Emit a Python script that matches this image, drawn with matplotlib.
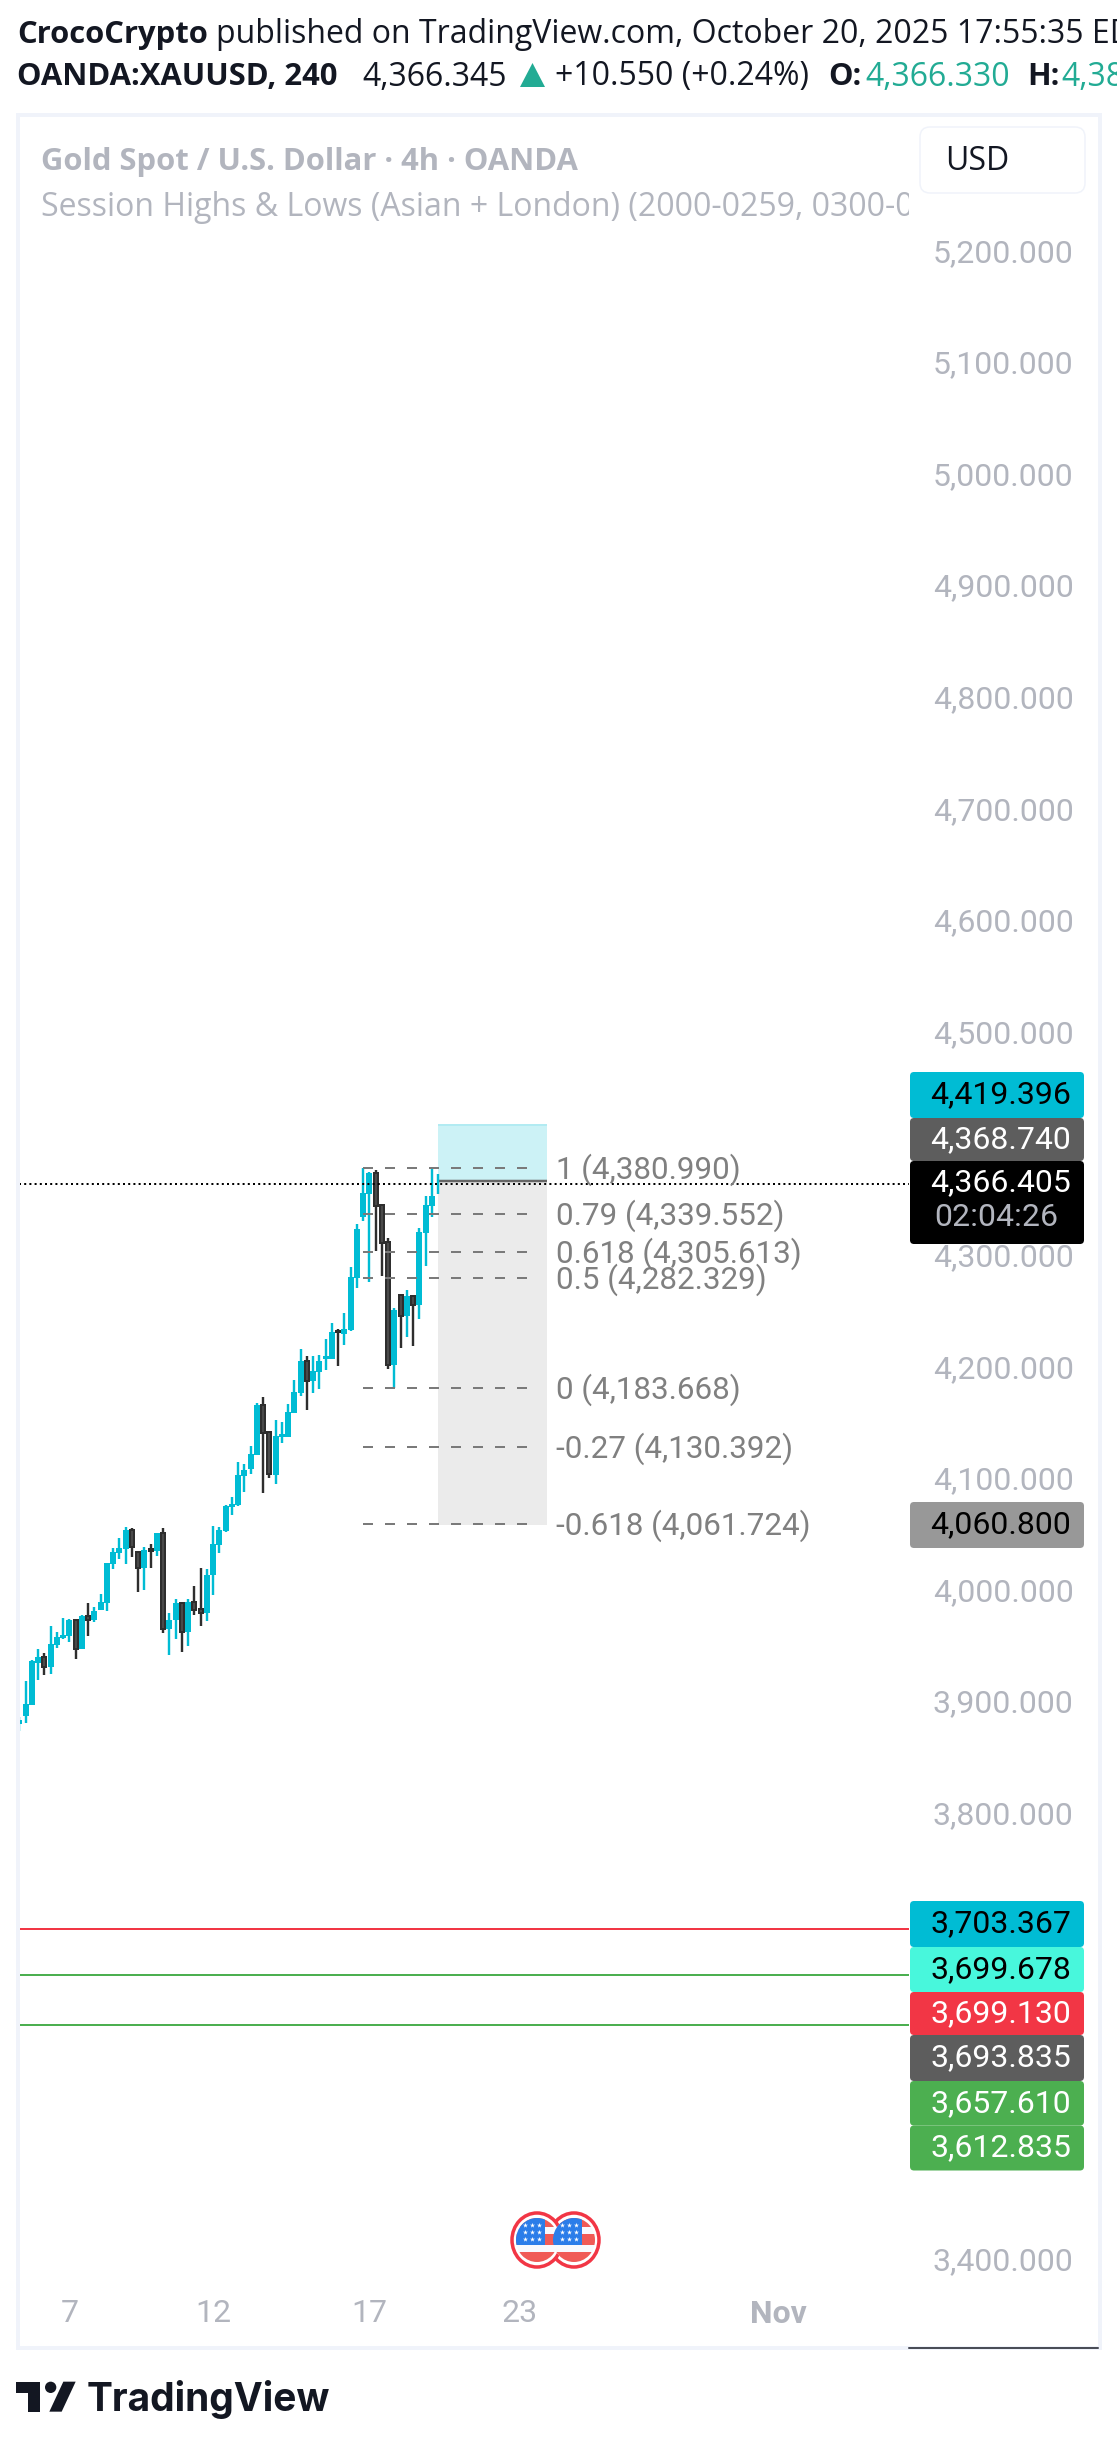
import matplotlib
matplotlib.use("Agg")
import matplotlib.pyplot as plt
from matplotlib.patches import Ellipse, FancyBboxPatch, Polygon, Rectangle, Circle
from matplotlib.transforms import ScaledTranslation
import numpy as np

plt.rcParams["font.family"] = ["Roboto", "DejaVu Sans"]

# 4h candles
opens = [3882.6, 3889.7, 3899.6, 3937.2, 3942.6, 3933.6, 3953.4, 3959.6, 3961.4, 3975.8,
         3949.8, 3979.3, 3975.8, 3984.7, 3991.0, 4025.9, 4035.8, 4039.4, 4056.4, 4036.7,
         4022.4, 4039.4, 4037.6, 4053.7, 3967.7, 3975.8, 3991.0, 3965.0, 3991.9, 3985.6,
         3982.0, 4016.1, 4043.0, 4055.5, 4077.0, 4078.8, 4104.8, 4111.1, 4123.6, 4168.4,
         4144.2, 4105.7, 4139.7, 4140.0, 4161.6, 4179.5, 4207.9, 4190.2, 4198.3, 4210.0,
         4210.0, 4235.1, 4232.1, 4235.7, 4282.6, 4337.0, 4357.6, 4376.4, 4347.7, 4314.6,
         4204.3, 4267.1, 4248.2, 4266.2, 4258.1, 4322.6, 4346.8, 4366.33]
highs = [3888.8, 3921.1, 3939.9, 3949.8, 3946.2, 3970.4, 3965.0, 3977.5, 3976.7, 3976.7,
         3980.2, 3991.0, 3987.4, 3999.1, 4026.8, 4040.3, 4049.2, 4059.1, 4058.2, 4036.7,
         4041.2, 4043.9, 4053.7, 4058.2, 3982.0, 3994.6, 3991.9, 3994.6, 4006.2, 4022.4,
         4021.5, 4060.0, 4059.1, 4078.8, 4086.0, 4117.3, 4115.5, 4131.7, 4170.2, 4175.6,
         4144.2, 4155.0, 4153.2, 4169.3, 4190.8, 4218.6, 4212.3, 4212.3, 4213.2, 4227.6,
         4242.0, 4236.6, 4250.9, 4292.2, 4330.7, 4381.0, 4377.3, 4379.1, 4347.7, 4318.1,
         4255.4, 4268.0, 4271.5, 4267.1, 4327.1, 4355.8, 4381.0, 4375.5]
lows = [3876.3, 3883.5, 3899.6, 3922.0, 3926.5, 3927.4, 3950.7, 3958.7, 3956.0, 3940.8,
        3949.8, 3961.4, 3974.0, 3984.7, 3983.8, 4021.5, 4030.4, 4025.9, 4032.2, 4000.9,
        4002.6, 4022.4, 4033.1, 3964.1, 3944.4, 3958.7, 3947.1, 3952.5, 3980.2, 3970.4,
        3974.9, 3998.2, 4035.8, 4054.6, 4069.8, 4077.9, 4090.5, 4106.6, 4123.6, 4089.6,
        4103.0, 4097.6, 4134.4, 4140.0, 4161.6, 4176.5, 4163.9, 4179.5, 4182.8, 4199.9,
        4210.0, 4203.4, 4222.3, 4234.8, 4273.3, 4333.4, 4278.7, 4306.5, 4284.1, 4200.8,
        4183.7, 4219.6, 4229.4, 4221.4, 4245.6, 4293.0, 4337.0, 4357.6]
closes = [3886.1, 3900.5, 3939.0, 3942.6, 3933.6, 3954.3, 3960.5, 3962.3, 3975.8, 3949.8,
          3979.3, 3975.8, 3983.8, 3991.9, 4026.8, 4036.7, 4040.3, 4056.4, 4041.2, 4022.4,
          4038.5, 4037.6, 4053.7, 3967.7, 3975.8, 3991.0, 3965.0, 3991.9, 3984.7, 3982.0,
          4016.1, 4043.9, 4056.4, 4077.9, 4079.7, 4105.7, 4110.2, 4124.5, 4168.4, 4143.3,
          4106.6, 4140.6, 4142.4, 4162.2, 4180.1, 4207.9, 4190.2, 4198.9, 4207.9, 4212.4,
          4233.9, 4233.6, 4236.6, 4283.2, 4326.2, 4358.5, 4376.4, 4346.8, 4313.7, 4204.3,
          4253.6, 4248.2, 4266.2, 4258.1, 4323.5, 4347.7, 4355.8, 4366.345]

price_ticks = [3400, 3500, 3600, 3700, 3800, 3900, 4000, 4100, 4200, 4300, 4400, 4500,
               4600, 4700, 4800, 4900, 5000, 5100, 5200]
time_ticks = [8, 31, 56, 80, 121.4]
time_labels = ["7", "12", "17", "23", "Nov"]

fib_levels = [4380.990, 4339.552, 4305.613, 4282.329, 4183.668, 4130.392, 4061.724]
fib_labels = ["1 (4,380.990)", "0.79 (4,339.552)", "0.618 (4,305.613)", "0.5 (4,282.329)",
              "0 (4,183.668)", "-0.27 (4,130.392)", "-0.618 (4,061.724)"]
target = 4419.396
entry = 4368.740
stop = 4060.800
last_price = 4366.405
session_reds = [3699.130]
session_greens = [3657.610, 3612.835]

pills = [("4,419.396", "#00bcd4", "black"), ("4,368.740", "#5d5d5d", "white"),
         ("4,060.800", "#989898", "black"), ("3,703.367", "#00bcd4", "black"),
         ("3,699.678", "#48f7dc", "black"), ("3,699.130", "#f23645", "white"),
         ("3,693.835", "#5d5d5d", "white"), ("3,657.610", "#4caf50", "white"),
         ("3,612.835", "#4caf50", "white")]
pill_tops = [1072, 1118, 1502, 1901, 1947, 1992, 2035, 2081, 2125.5]
pill_bottoms = [1118, 1161, 1548, 1947, 1992, 2035, 2081, 2125.5, 2170.5]

CYAN = "#00bcd4"
DARK = "#2e2e2e"
GREY_TXT = "#b2b5be"
TEAL = "#22ab94"
INK = "#131722"
HEAD_SIZE = 23
BOLD_SIZE = 22.3
SCALE_SIZE = 23

W, H = 1117, 2446
fig = plt.figure(figsize=(W / 100, H / 100), dpi=100, facecolor="white")
PX = 72 / 100  # one pixel in points

# chart pane, pixel box 19..909 x 116..2349
ax = fig.add_axes([19 / W, 1 - 2349 / H, 890 / W, 2233 / H])
ax.set_xlim(-0.05, 142.35)
ax.set_ylim(4000 - 756 / 1.116, 4000 + 1477 / 1.116)
for s in ax.spines.values():
    s.set_visible(False)

x = np.arange(len(opens))
o, h, l, c = map(np.array, (opens, highs, lows, closes))
up = c >= o

ax.add_patch(Rectangle((67, entry), 17.4, target - entry, fc="#ccf2f6", ec="none", zorder=1))
ax.add_patch(Rectangle((67, stop), 17.4, entry - stop, fc="#ebebeb", ec="none", zorder=1))
ax.hlines(target, 67, 84.4, color="#b2ebf2", lw=2 * PX, zorder=1.5)
ax.hlines(entry, 67, 84.4, color="#666666", lw=2.5 * PX, zorder=1.5)

ax.vlines(x[up], l[up], h[up], color=CYAN, lw=2.4 * PX, zorder=2)
ax.vlines(x[~up], l[~up], h[~up], color=DARK, lw=2.4 * PX, zorder=2)
ax.bar(x[up], (c - o)[up], bottom=o[up], width=0.96, color=CYAN, zorder=2.2)
ax.bar(x[~up], (c - o)[~up], bottom=o[~up], width=0.66, facecolor="#4a4a4a",
       edgecolor=DARK, linewidth=2 * PX, zorder=2.4)

ax.hlines(fib_levels, 55, 81.3, color="#7a7a7a", lw=2 * PX, linestyle=(0, (5, 6)), zorder=3)
fib_shift = ax.transData + ScaledTranslation(0, -1.5 / 100, fig.dpi_scale_trans)
for lev, lab in zip(fib_levels, fib_labels):
    ax.text(85.8, lev, lab, color="#808080", fontsize=22.6, va="center", ha="left", zorder=4,
            transform=fib_shift)

ax.axhline(last_price, color="black", lw=2 * PX, linestyle=(0, (1, 1.6)), zorder=3.5)
for lev in session_reds:
    ax.axhline(lev, color="#f23645", lw=2 * PX, zorder=2)
for lev in session_greens:
    ax.axhline(lev, color="#4caf50", lw=2 * PX, zorder=2)

ax.yaxis.tick_right()
ax.set_yticks(price_ticks)
ax.set_yticklabels([f"{p:,.3f}" for p in price_ticks])
ax.tick_params(axis="y", length=0, pad=24 * PX, labelsize=SCALE_SIZE, labelcolor=GREY_TXT)
ax.set_xticks(time_ticks)
ax.set_xticklabels(time_labels)
ax.tick_params(axis="x", length=0, pad=-50 * PX, labelsize=SCALE_SIZE, labelcolor=GREY_TXT)
ax.get_xticklabels()[-1].set_fontweight("bold")
up_shift = ScaledTranslation(0, 3.5 / 100, fig.dpi_scale_trans)
for lab in ax.get_yticklabels():
    lab.set_transform(lab.get_transform() + up_shift)

# overlay in pixel coordinates for the page furniture
ov = fig.add_axes([0, 0, 1, 1], zorder=5)
ov.set_xlim(0, W)
ov.set_ylim(H, 0)
ov.axis("off")

ov.add_patch(Rectangle((17.5, 115), 1082, 2233, fc="none", ec="#f0f3fa", lw=4 * PX))
ov.plot([909, 1098], [2347.5, 2347.5], color=INK, lw=1.5 * PX)

# header
head = ["Open Sans", "DejaVu Sans"]
ov.text(17, 34.5, "CrocoCrypto", fontsize=BOLD_SIZE, fontweight="bold", color=INK, va="center", family=head)
ov.text(216, 34.5, "published on TradingView.com, October 20, 2025 17:55:35 EDT", fontsize=HEAD_SIZE,
        color=INK, va="center", family=head, clip_on=False)
ov.text(17, 77, "OANDA:XAUUSD, 240", fontsize=BOLD_SIZE, fontweight="bold", color=INK, va="center", family=head)
ov.text(362, 77, "4,366.345", fontsize=HEAD_SIZE, color=INK, va="center", family=head)
ov.add_patch(Polygon([[520, 87], [545, 87], [532.5, 63]], fc=TEAL, ec="none"))
ov.text(555, 77, "+10.550 (+0.24%)", fontsize=HEAD_SIZE, color=INK, va="center", family=head)
ov.text(828, 77, "O:", fontsize=BOLD_SIZE, fontweight="bold", color=INK, va="center", family=head)
ov.text(865, 77, "4,366.330", fontsize=HEAD_SIZE, color=TEAL, va="center", family=head)
ov.text(1027, 77, "H:", fontsize=BOLD_SIZE, fontweight="bold", color=INK, va="center", family=head)
ov.text(1061, 77, "4,381.000", fontsize=HEAD_SIZE, color=TEAL, va="center", family=head)

# chart legend, the second line is cut by the price scale
ax.text(41, 162, "Gold Spot / U.S. Dollar \u00b7 4h \u00b7 OANDA", transform=ov.transData, fontsize=BOLD_SIZE,
        fontweight="bold", color=GREY_TXT, va="center", family=head, zorder=6)
ax.text(41, 207, "Session Highs & Lows (Asian + London) (2000-0259, 0300-0800)", transform=ov.transData,
        fontsize=HEAD_SIZE, color=GREY_TXT, va="center", family=head, clip_on=True, zorder=6)

ov.add_patch(FancyBboxPatch((924, 131), 157, 58, boxstyle="round,pad=4,rounding_size=10",
                            fc="white", ec="#f0f3fa", lw=1.5 * PX))
ov.text(945, 162, "USD", fontsize=HEAD_SIZE, color=INK, va="center", family=head)

# price labels
for (lab, bg, fg), top, bot in zip(pills, pill_tops, pill_bottoms):
    ov.add_patch(FancyBboxPatch((911, top + 1), 172, bot - top - 2, boxstyle="round,pad=1,rounding_size=4",
                                fc=bg, ec="none"))
    ov.text(1071, (top + bot) / 2, lab, color=fg, fontsize=SCALE_SIZE, ha="right", va="center")

ov.add_patch(FancyBboxPatch((911, 1162), 172, 81, boxstyle="round,pad=1,rounding_size=4", fc="black", ec="none"))
ov.text(1071, 1183, "4,366.405", color="white", fontsize=SCALE_SIZE, ha="right", va="center")
ov.text(934, 1218, "02:04:26", color="#b2b5be", fontsize=SCALE_SIZE, ha="left", va="center")


# event flags on the time axis
def flag(cx, cy):
    ring = Ellipse((cx, cy), 50, 54, fc="white", ec="#f23645", lw=3.5 * PX, zorder=2)
    ov.add_patch(ring)
    inner = Ellipse((cx, cy), 42, 44, fc="#f8f9fd", ec="none", zorder=2.1)
    ov.add_patch(inner)
    for y0, y1 in [(-22, -13), (-6, 5), (12, 22)]:
        r = Rectangle((cx - 22, cy + y0), 44, y1 - y0, fc="#f05a56", ec="none", zorder=2.2)
        ov.add_patch(r)
        r.set_clip_path(inner)
    b = Rectangle((cx - 22, cy - 22), 30, 27, fc="#2b7de9", ec="none", zorder=2.3)
    ov.add_patch(b)
    b.set_clip_path(inner)
    sx, sy = np.meshgrid([cx - 12, cx - 5, cx + 2], [cy - 15, cy - 8, cy - 1])
    stars = ov.scatter(sx.ravel(), sy.ravel(), s=14, marker="*", color="white", linewidths=0, zorder=2.4)
    stars.set_clip_path(inner)


flag(574, 2240)
flag(537, 2240)

# TradingView logo
def zp(pts):
    return [[10 + a / 3, 2370 + b / 3] for a, b in pts]


ov.add_patch(Polygon(zp([(18, 35), (90, 35), (90, 125), (55, 125), (55, 70), (18, 70)]), fc=INK, ec="none"))
ov.add_patch(Circle((10 + 122 / 3, 2370 + 52 / 3), 17 / 3, fc=INK, ec="none"))
ov.add_patch(Polygon(zp([(160, 35), (197, 35), (155, 125), (118, 125)]), fc=INK, ec="none"))
ov.text(87, 2411, "TradingView", fontsize=28, fontweight="bold", color=INK, va="baseline", family=["Inter", "DejaVu Sans"])

fig.savefig("out.png", dpi=100)
